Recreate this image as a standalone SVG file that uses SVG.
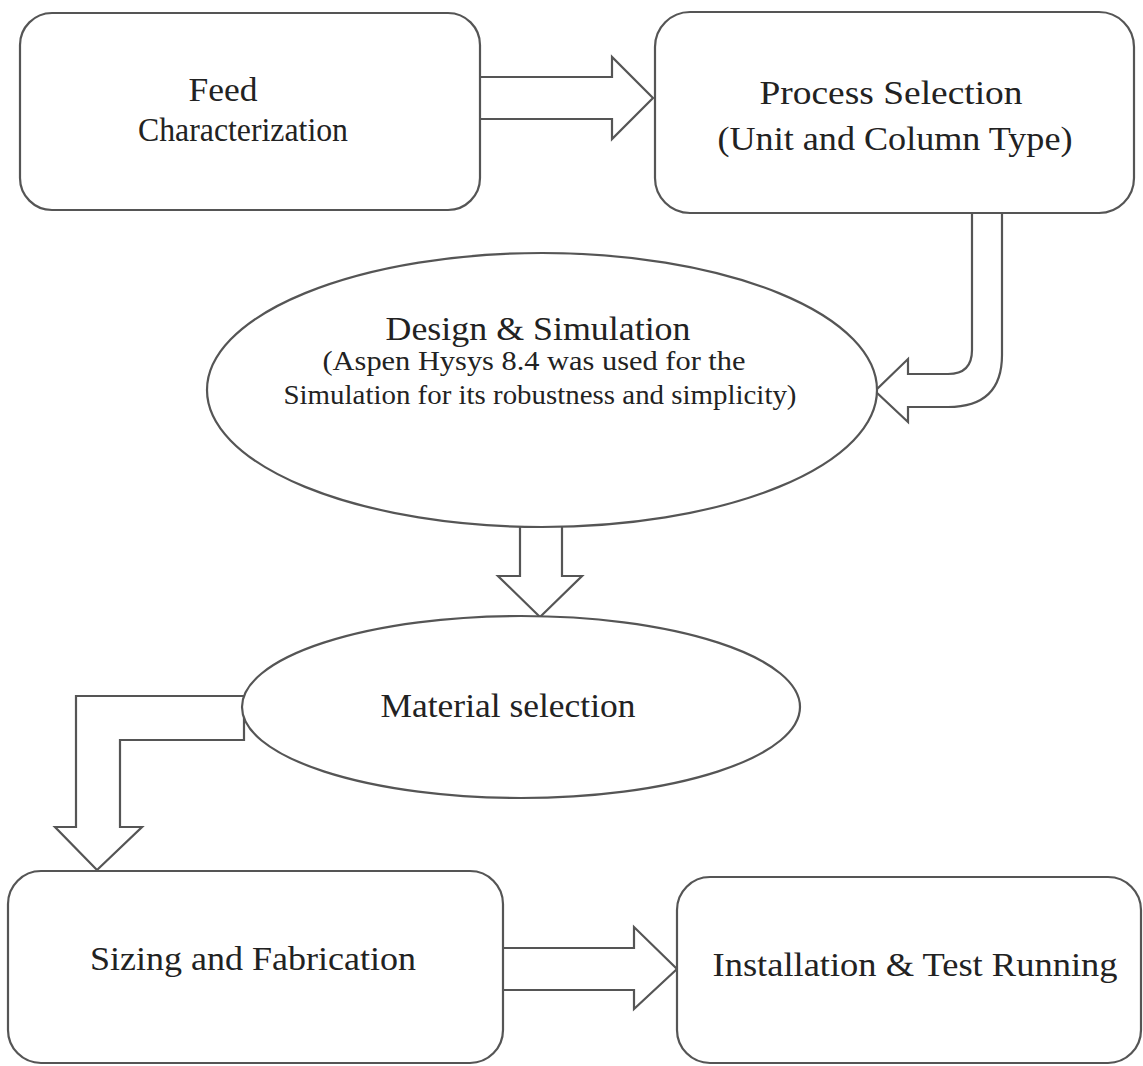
<svg xmlns="http://www.w3.org/2000/svg" width="1143" height="1066" viewBox="0 0 1143 1066">
<style>
.shape{fill:#fff;stroke:#555;stroke-width:2.2}
.conn{fill:#fff;stroke:#555;stroke-width:2.2;stroke-linejoin:miter}
text{font-family:'Liberation Serif','Times New Roman',serif;fill:#222;text-anchor:middle}
.t{font-size:33px}
.s{font-size:27px}
</style>
<rect x="0" y="0" width="1143" height="1066" fill="#fff"/>
<g id="connectors">
<path class="conn" d="M480,77 H612 V57 L653,98 L612,139 V119 H480"/>
<path class="conn" d="M1002,213 V355 Q1002,407 948,407 H908 V422 L875,391 L908,359 V374 H948 Q972,374 972,350 V213"/>
<path class="conn" d="M520,527 V576 H498 L540,617 L582,576 H562 V527"/>
<path class="conn" d="M244,696 H76 V827 H55 L97,870 L142,827 H120 V740 H244 Z"/>
<path class="conn" d="M503,948 H634 V927 L677,969 L634,1009 V990 H503"/>
</g>
<g id="feed" font-family="Liberation Serif">
<rect class="shape" x="20" y="13" width="460" height="197" rx="32"/>
<text class="t" x="223" y="101" textLength="69" lengthAdjust="spacingAndGlyphs">Feed</text>
<text class="t" x="243" y="141" textLength="210" lengthAdjust="spacingAndGlyphs">Characterization</text>
</g>
<g id="process" font-family="Liberation Serif">
<rect class="shape" x="655" y="12" width="479" height="201" rx="35"/>
<text class="t" x="891" y="104" textLength="263" lengthAdjust="spacingAndGlyphs">Process Selection</text>
<text class="t" x="895" y="150" textLength="355" lengthAdjust="spacingAndGlyphs">(Unit and Column Type)</text>
</g>
<g id="design" font-family="Liberation Serif">
<ellipse class="shape" cx="542" cy="390" rx="335" ry="137"/>
<text class="t" x="538" y="340" textLength="305" lengthAdjust="spacingAndGlyphs">Design &amp; Simulation</text>
<text class="s" x="534" y="370" textLength="423" lengthAdjust="spacingAndGlyphs">(Aspen Hysys 8.4 was used for the</text>
<text class="s" x="540" y="404" textLength="513" lengthAdjust="spacingAndGlyphs">Simulation for its robustness and simplicity)</text>
</g>
<g id="material" font-family="Liberation Serif">
<ellipse class="shape" cx="521" cy="707" rx="279" ry="91"/>
<text class="t" x="508" y="717" textLength="255" lengthAdjust="spacingAndGlyphs">Material selection</text>
</g>
<g id="sizing" font-family="Liberation Serif">
<rect class="shape" x="8" y="871" width="495" height="192" rx="33"/>
<text class="t" x="253" y="970" textLength="326" lengthAdjust="spacingAndGlyphs">Sizing and Fabrication</text>
</g>
<g id="installation" font-family="Liberation Serif">
<rect class="shape" x="677" y="877" width="464" height="186" rx="33"/>
<text class="t" x="915" y="976" textLength="405" lengthAdjust="spacingAndGlyphs">Installation &amp; Test Running</text>
</g>
</svg>
